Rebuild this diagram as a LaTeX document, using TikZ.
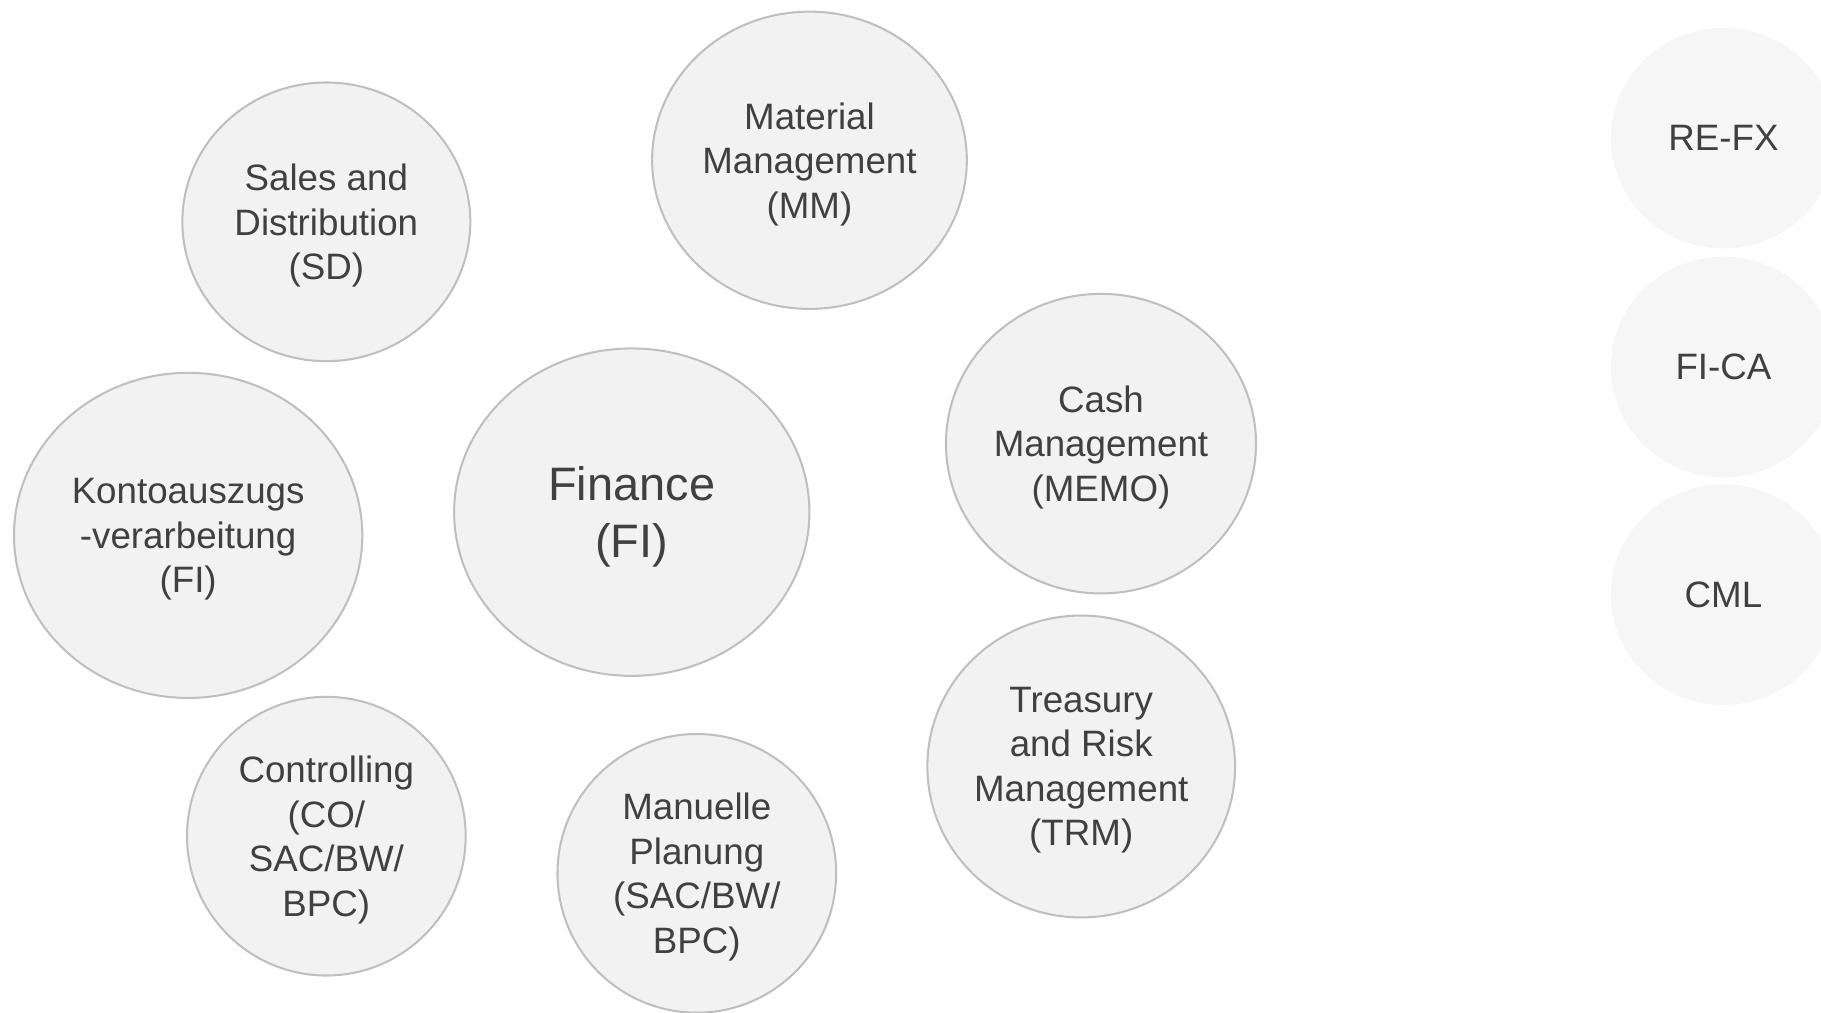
\documentclass[tikz,border=0pt]{standalone}
\usepackage{fontspec}
\setmainfont{Liberation Sans}
\usetikzlibrary{shapes.geometric}
\definecolor{bubblefill}{HTML}{F2F2F2}
\definecolor{bubbleline}{HTML}{BFBFBF}
\definecolor{sidefill}{HTML}{F6F6F6}
\definecolor{bubbletext}{HTML}{404040}
\tikzset{
  bubble/.style={ellipse,draw=bubbleline,line width=1pt,fill=bubblefill,inner sep=0pt,
    align=center,text=bubbletext,font=\fontsize{18}{21.8}\selectfont,text depth=-0.7pt},
  side/.style={ellipse,fill=sidefill,inner sep=0pt,minimum width=3.88cm,minimum height=3.80cm,
    align=center,text=bubbletext,font=\fontsize{18}{21.8}\selectfont}
}
\begin{document}
\begin{tikzpicture}[x=0.02cm,y=-0.02cm]
\useasboundingbox (0,0) rectangle (1568,872);
\clip (0,0) rectangle (1568,872);
\node[bubble,minimum width=4.96cm,minimum height=4.80cm] (SD) at (281,191) {Sales and\\Distribution\\(SD)};
\node[bubble,minimum width=5.42cm,minimum height=5.12cm] (MM) at (697,138) {Material\\Management\\(MM)};
\node[bubble,minimum width=5.34cm,minimum height=5.16cm] (MEMO) at (948,382) {Cash\\Management\\(MEMO)};
\node[bubble,minimum width=6.12cm,minimum height=5.64cm,font=\fontsize{23}{27.9}\selectfont] (FI) at (544,441) {Finance\\(FI)};
\node[bubble,minimum width=6.00cm,minimum height=5.60cm] (KA) at (162,461) {Kontoauszugs\\-verarbeitung\\(FI)};
\node[bubble,minimum width=5.30cm,minimum height=5.20cm] (TRM) at (931,660) {Treasury\\and Risk\\Management\\(TRM)};
\node[bubble,minimum width=4.80cm,minimum height=4.80cm] (CO) at (281,720) {Controlling\\(CO/\\SAC/BW/\\BPC)};
\node[bubble,minimum width=4.80cm,minimum height=4.80cm] (MP) at (600,752) {Manuelle\\Planung\\(SAC/BW/\\BPC)};
\node[side] (REFX) at (1484,119) {RE-FX};
\node[side] (FICA) at (1484,316) {FI-CA};
\node[side] (CML) at (1484,512) {CML};
\end{tikzpicture}
\end{document}
